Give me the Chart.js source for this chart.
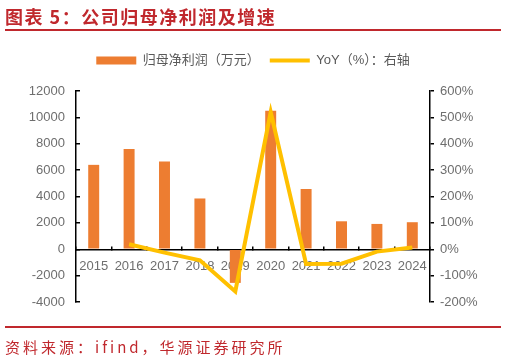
<!DOCTYPE html>
<html>
<head>
<meta charset="utf-8">
<script src="https://cdn.jsdelivr.net/npm/chart.js@4.4.1/dist/chart.umd.min.js"></script>
<style>
  body { margin: 0; background: #fff; }
  #wrap { position: relative; width: 506px; height: 361px; overflow: hidden; }
  #title { position: absolute; left: 5px; top: 3px; font: bold 18px "Noto Sans CJK SC", sans-serif; color: #c0282d; letter-spacing: 1.5px; white-space: nowrap; }
  #topline { position: absolute; left: 5px; top: 29px; width: 496px; height: 2px; background: #c0282d; }
  #botline { position: absolute; left: 5px; top: 326px; width: 496px; height: 2px; background: #c0282d; }
  #source { position: absolute; left: 5px; top: 336px; font: 15px "Noto Sans CJK SC", sans-serif; color: #c0282d; letter-spacing: 3px; white-space: nowrap; }
  #chart { position: absolute; left: 0; top: 0; }
</style>
</head>
<body>
<div id="wrap">
  <canvas id="chart" width="506" height="361"></canvas>
  <div id="title">图表 5：公司归母净利润及增速</div>
  <div id="topline"></div>
  <div id="botline"></div>
  <div id="source">资料来源：ifind，华源证券研究所</div>
</div>
<script>
let YEARS = ['2015', '2016', '2017', '2018', '2019', '2020', '2021', '2022', '2023', '2024'];
let PROFIT = [6400, 7600, 6650, 3850, -2550, 10500, 4570, 2120, 1920, 2050];
let YOY = [null, 19, -13, -42, -160, 520, -56, -55, -9, 7];
let PROFIT_LABEL = '归母净利润（万元）';
let YOY_LABEL = 'YoY（%）：右轴';

const FONT = '"Liberation Sans", "Noto Sans CJK SC", sans-serif';
const GREY = '#6e6e6e';

// push the plot area down a bit below the legend
const legendGap = {
    id: 'legendGap',
    beforeInit(chart) {
        const fit = chart.legend.fit;
        chart.legend.fit = function () {
            fit.bind(chart.legend)();
            this.height += 14;
        };
    }
};

function start() {
    const ctx = document.getElementById('chart').getContext('2d');
    return new Chart(ctx, {
        data: {
            labels: YEARS,
            datasets: [
                {
                    type: 'line',
                    label: YOY_LABEL,
                    data: YOY,
                    yAxisID: 'y1',
                    borderColor: '#ffc000',
                    backgroundColor: '#ffc000',
                    borderWidth: 4,
                    pointRadius: 0,
                    pointStyle: 'line',
                    tension: 0,
                    order: 0
                },
                {
                    type: 'bar',
                    label: PROFIT_LABEL,
                    data: PROFIT,
                    yAxisID: 'y',
                    backgroundColor: '#ed7d31',
                    borderWidth: 0,
                    barPercentage: 0.31,
                    categoryPercentage: 1,
                    pointStyle: 'rect',
                    order: 1
                }
            ]
        },
        plugins: [legendGap],
        options: {
            responsive: false,
            animation: false,
            layout: { padding: { top: 44, bottom: 59, left: 0, right: 0 } },
            plugins: {
                legend: {
                    position: 'top',
                    reverse: true,
                    labels: {
                        usePointStyle: true,
                        pointStyleWidth: 40,
                        boxHeight: 8,
                        color: '#595959',
                        font: { size: 13, family: FONT },
                        padding: 10
                    }
                },
                tooltip: { enabled: false }
            },
            scales: {
                x: {
                    position: { y: 0 },
                    offset: true,
                    grid: { drawOnChartArea: false, offset: true, tickLength: -4, color: '#000', lineWidth: 1.5 },
                    border: { color: '#000', width: 1.5 },
                    ticks: { color: GREY, font: { size: 13, family: FONT }, padding: 13, maxRotation: 0, autoSkip: false }
                },
                y: {
                    position: 'left',
                    min: -4000,
                    max: 12000,
                    ticks: {
                        stepSize: 2000, color: GREY, font: { size: 13, family: FONT }, padding: 15,
                        callback: function (v) { return String(v); }
                    },
                    grid: { drawOnChartArea: false, tickLength: -4, color: '#000', lineWidth: 1.5 },
                    border: { color: '#000', width: 1.5 },
                    afterFit: function (s) { s.width = 76; }
                },
                y1: {
                    position: 'right',
                    min: -200,
                    max: 600,
                    ticks: {
                        stepSize: 100, color: GREY, font: { size: 13, family: FONT }, padding: 6,
                        callback: function (v) { return v + '%'; }
                    },
                    grid: { drawOnChartArea: false, tickLength: 4, color: '#000', lineWidth: 1.5 },
                    border: { color: '#000', width: 1.5 },
                    afterFit: function (s) { s.width = 76; }
                }
            }
        }
    });
}

start();
</script>
</body>
</html>
